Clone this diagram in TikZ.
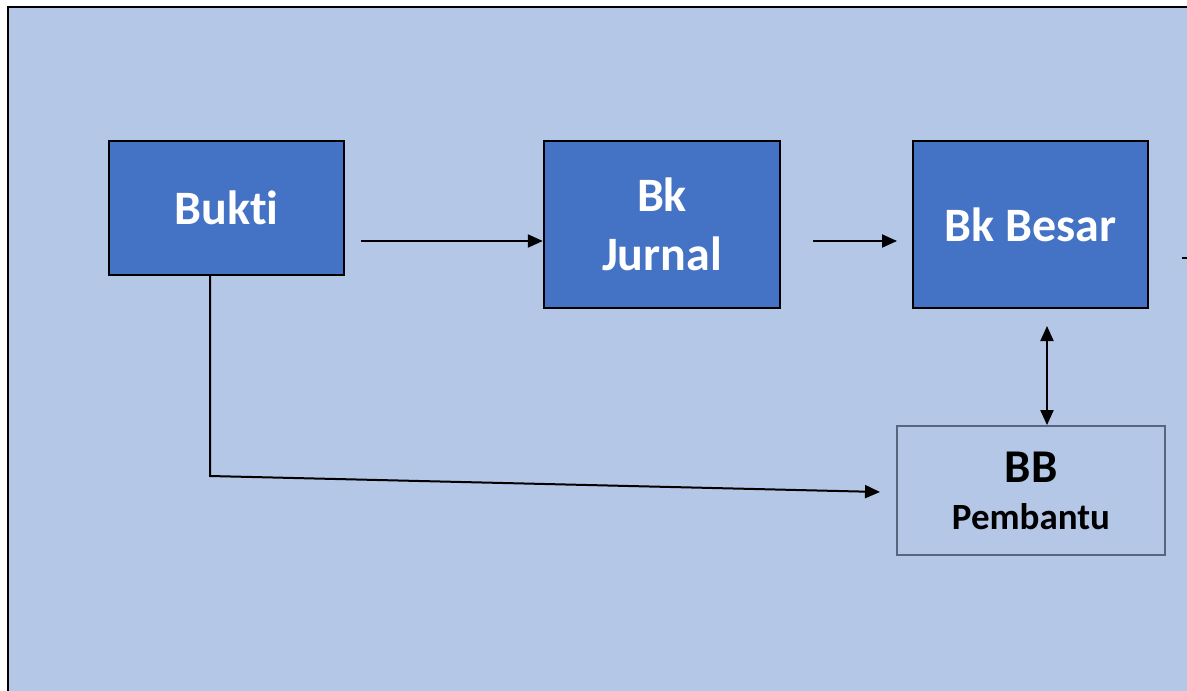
\documentclass[tikz,border=0pt]{standalone}
\usepackage{fontspec}
\setmainfont{Carlito}[Ligatures=NoCommon]
\usetikzlibrary{arrows.meta}
\definecolor{bgblue}{HTML}{B4C7E7}
\definecolor{boxblue}{HTML}{4472C4}
\definecolor{slate}{HTML}{56667F}
\tikzset{
  bluebox/.style={draw=black, line width=2.4pt, fill=boxblue, text=white, inner sep=0pt, align=center,
    font=\bfseries\fontsize{48}{59}\selectfont},
  helperbox/.style={draw=slate, line width=1.8pt, fill=bgblue, text=black, inner sep=0pt, align=center,
    font=\bfseries},
  arr/.style={line width=2pt, -{Triangle[length=15pt,width=13pt]}},
  darr/.style={line width=2pt, {Triangle[length=15pt,width=13pt]}-{Triangle[length=15pt,width=13pt]}},
  ln/.style={line width=2pt}
}
\begin{document}
\begin{tikzpicture}[x=1pt,y=-1pt]
\useasboundingbox (0,0) rectangle (1187,691);
\fill[bgblue] (8,7) rectangle (1195,700);
\draw[line width=2.5pt, black] (8,700) -- (8,7) -- (1195,7);

\node[bluebox, minimum width=235pt, minimum height=134pt] (bukti) at (226.5,208) {Bukti};
\node[bluebox, minimum width=236pt, minimum height=167pt] (jurnal) at (662,224.5) {Bk\\Jurnal};
\node[bluebox, minimum width=235pt, minimum height=167pt] (besar) at (1030.5,224.5) {Bk Besar};
\node[helperbox, minimum width=268pt, minimum height=129pt] (bbp) at (1031,490.5)
  {\fontsize{47}{50}\selectfont BB\\[20pt]\fontsize{37}{49}\selectfont Pembantu};

\coordinate (a1) at (361,241);
\draw[arr] (a1) -- (jurnal.west |- a1);
\coordinate (a2) at (813,241);
\coordinate (a2e) at (897,241);
\draw[arr] (a2) -- (a2e);
\coordinate (a3) at (1182,258);
\coordinate (a3e) at (1195,258);
\draw[ln] (a3) -- (a3e);
\coordinate (a4) at (1047,326);
\draw[darr] (a4) -- (a4 |- bbp.north);
\coordinate (corner) at (210,476);
\coordinate (tipb) at (880,492);
\draw[arr] (bukti.south -| corner) -- (corner) -- (tipb);
\end{tikzpicture}
\end{document}
